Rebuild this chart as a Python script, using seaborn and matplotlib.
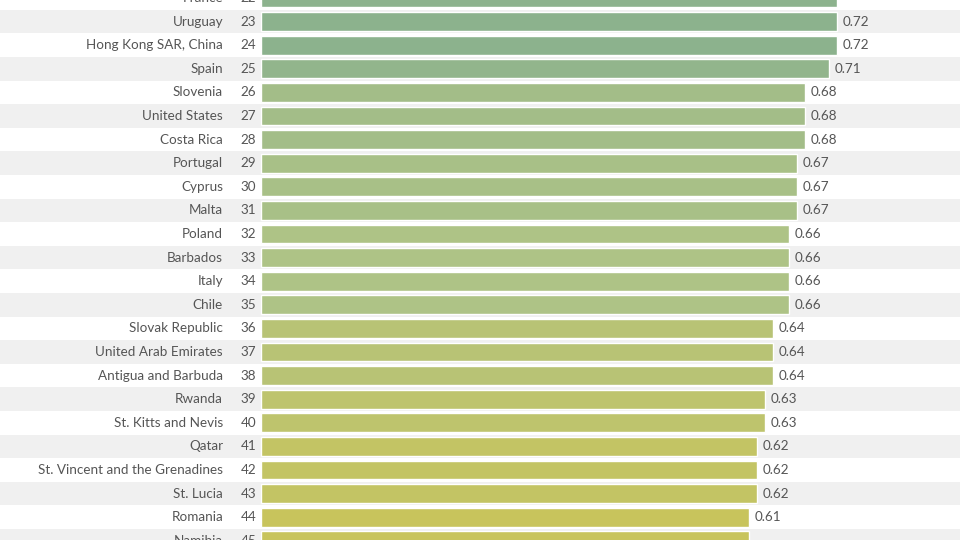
import numpy as np
import seaborn as sns
import matplotlib.pyplot as plt
from matplotlib.colors import LinearSegmentedColormap, Normalize
import matplotlib.transforms as mtransforms

# data (ranks 22-45 visible in the crop)
ranks = list(range(22, 46))
countries = ['France', 'Uruguay', 'Hong Kong SAR, China', 'Spain', 'Slovenia',
             'United States', 'Costa Rica', 'Portugal', 'Cyprus', 'Malta',
             'Poland', 'Barbados', 'Italy', 'Chile', 'Slovak Republic',
             'United Arab Emirates', 'Antigua and Barbuda', 'Rwanda',
             'St. Kitts and Nevis', 'Qatar', 'St. Vincent and the Grenadines',
             'St. Lucia', 'Romania', 'Namibia']
scores = [0.72, 0.72, 0.72, 0.71, 0.68, 0.68, 0.68, 0.67, 0.67, 0.67,
          0.66, 0.66, 0.66, 0.66, 0.64, 0.64, 0.64, 0.63, 0.63, 0.62,
          0.62, 0.62, 0.61, 0.61]

sns.set_style('white')
plt.rcParams['font.family'] = ['Lato', 'DejaVu Sans']
text_col = '#555555'

# colour scale by score, green -> olive yellow
cmap = LinearSegmentedColormap.from_list(
    'score', [(0.0, '#c8c45c'), (0.45, '#aec386'), (1.0, '#8cb28d')])
norm = Normalize(vmin=0.61, vmax=0.72)
colors = [cmap(norm(v)) for v in scores]

fig = plt.figure(figsize=(9.6, 5.4), dpi=100)
ax = fig.add_axes([0, 0, 1, 1])

# alternating row background
for i, r in enumerate(ranks):
    if r % 2 == 1:
        ax.axhspan(i - 0.5, i + 0.5, color='#f0f0f0', zorder=0, lw=0)

sns.barplot(x=scores, y=countries, hue=countries, palette=colors, legend=False,
            orient='h', width=0.8, saturation=1, ax=ax, zorder=2)

ax.set_xlim(-261 / 800, (960 - 261) / 800)
ax.set_ylim(542 / 23.6, 2 / 23.6)
ax.axis('off')

trans = mtransforms.blended_transform_factory(ax.transAxes, ax.transData)
for i, (c, r, v) in enumerate(zip(countries, ranks, scores)):
    ax.text(0.2323, i, c, transform=trans, ha='right', va='center',
            fontsize=9.7, color=text_col)
    ax.text(0.2667, i, str(r), transform=trans, ha='right', va='center',
            fontsize=9.7, color=text_col)
    ax.annotate(f'{v:.2f}', (v, i), xytext=(4, 0), textcoords='offset points',
                ha='left', va='center', fontsize=9.7, color=text_col)

fig.savefig('out.png', dpi=100)
